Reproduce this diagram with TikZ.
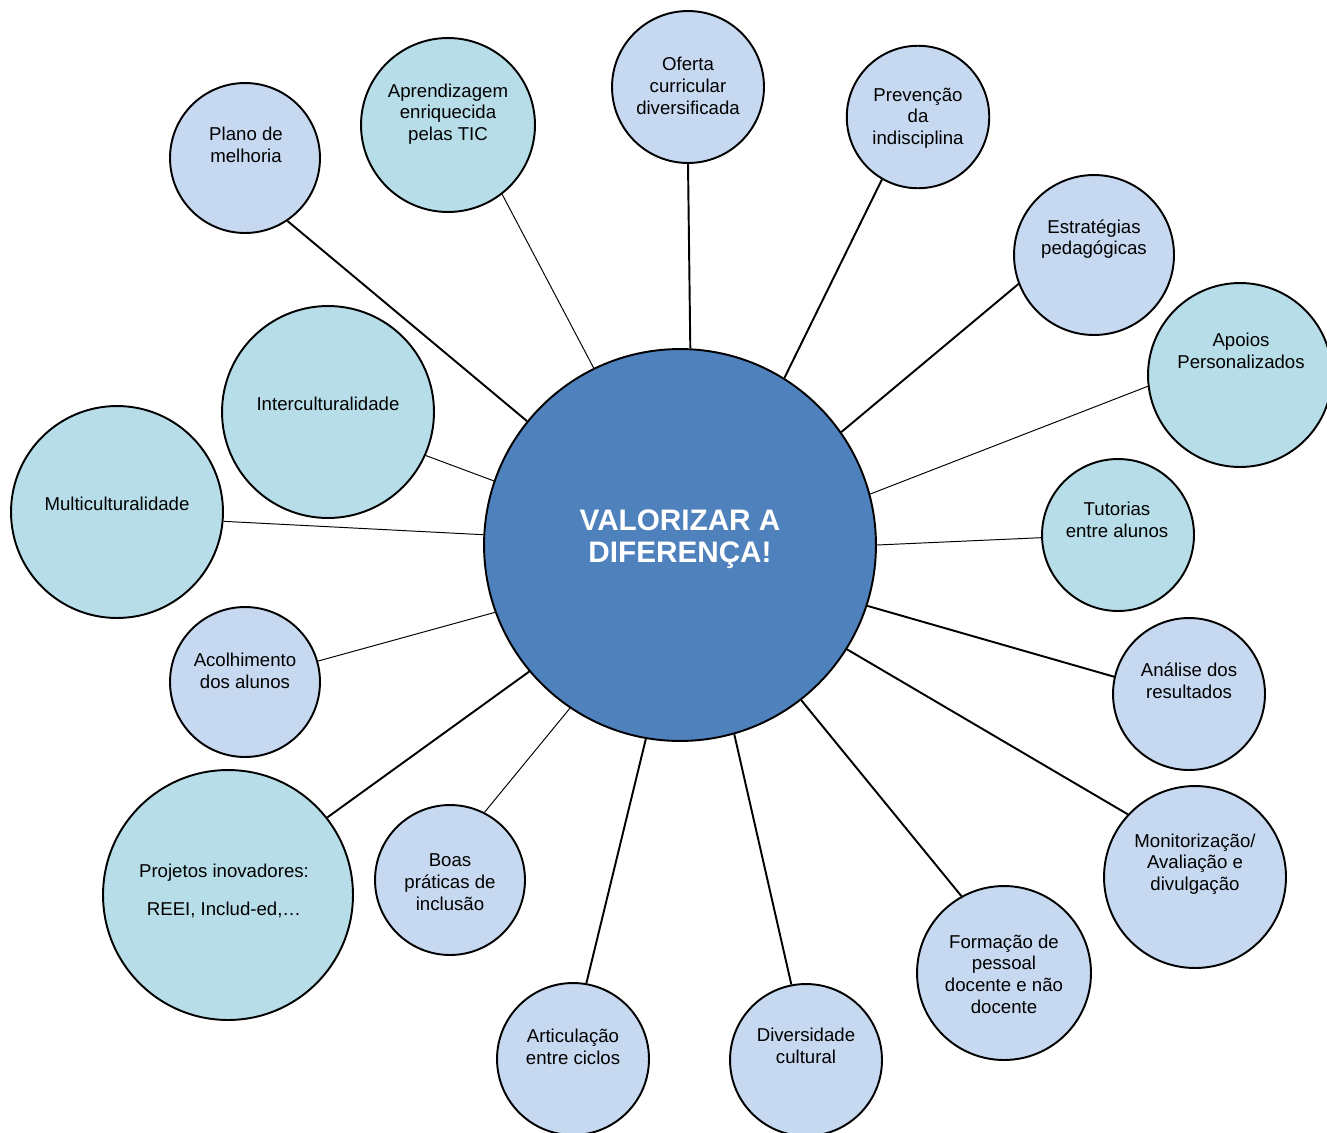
\documentclass[tikz,border=0pt]{standalone}
\usepackage{fontspec}
\setmainfont{Liberation Sans}
\definecolor{coreblue}{RGB}{79,129,189}
\definecolor{paleblue}{RGB}{198,217,241}
\definecolor{paleteal}{RGB}{183,222,232}

\begin{document}
\begin{tikzpicture}[
    x=0.02cm, y=-0.02cm,
    bubble/.style={circle, draw=black, line width=1.1pt, inner sep=0pt, fill=paleblue},
    core/.style={circle, draw=black, line width=1.1pt, fill=coreblue, inner sep=0pt,
                 minimum size=7.84cm},
    caption/.style={align=center, font=\fontsize{10.6}{12.35}\selectfont},
    link/.style={line width=1.1pt},
    thinlink/.style={line width=0.55pt}
]
    \useasboundingbox (0,0) rectangle (1327,1132);
    \clip (0,0) rectangle (1327,1132);

    % Centre
    \node[core] (core) at (680,545) {};
    \node[align=center, text=white, font=\fontsize{16.9}{18.5}\selectfont\bfseries] (core-txt) at (680,539) {VALORIZAR A\\DIFERENÇA!};

    % Top arc
    \node[bubble, minimum size=3cm] (plano) at (245,158) {};
    \node[caption] (plano-txt) at (246,145) {Plano de\\melhoria};
    \node[bubble, fill=paleteal, minimum size=3.48cm] (tic) at (448,125) {};
    \node[caption] (tic-txt) at (448,114) {Aprendizagem\\enriquecida\\pelas TIC};
    \node[bubble, minimum size=3.04cm] (oferta) at (688,87) {};
    \node[caption] (oferta-txt) at (688,86) {Oferta\\curricular\\diversificada};
    \node[bubble, minimum size=2.85cm] (prev) at (918,117) {};
    \node[caption] (prev-txt) at (918,118) {Prevenção\\da\\indisciplina};
    \node[bubble, minimum size=3.2cm] (estrat) at (1094,255) {};
    \node[caption] (estrat-txt) at (1094,239) {Estratégias\\pedagógicas};

    % Right side
    \node[bubble, fill=paleteal, minimum size=3.68cm] (apoios) at (1240,375) {};
    \node[caption] (apoios-txt) at (1241,351) {Apoios\\Personalizados};
    \node[bubble, fill=paleteal, minimum size=3.04cm] (tutorias) at (1118,535) {};
    \node[caption] (tutorias-txt) at (1117,520) {Tutorias\\entre alunos};
    \node[bubble, minimum size=3.04cm] (analise) at (1189,694) {};
    \node[caption] (analise-txt) at (1189,681) {Análise dos\\resultados};
    \node[bubble, minimum size=3.64cm] (monit) at (1195,877) {};
    \node[caption] (monit-txt) at (1195,864) {Monitorização/\\Avaliação e\\divulgação};

    % Bottom arc
    \node[bubble, minimum size=3.48cm] (formacao) at (1004,973) {};
    \node[caption] (formacao-txt) at (1004,974) {Formação de\\pessoal\\docente e não\\docente};
    \node[bubble, minimum size=3.04cm] (divers) at (806,1060) {};
    \node[caption] (divers-txt) at (806,1046) {Diversidade\\cultural};
    \node[bubble, minimum size=3.04cm] (artic) at (573,1059) {};
    \node[caption] (artic-txt) at (573,1047) {Articulação\\entre ciclos};
    \node[bubble, minimum size=3cm] (boas) at (450,880) {};
    \node[caption] (boas-txt) at (450,882) {Boas\\práticas de\\inclusão};
    \node[bubble, fill=paleteal, minimum size=5cm] (projetos) at (228,895) {};
    \node[caption] (projetos-txt) at (224,891) {Projetos inovadores:\\[0.34cm]REEI, Includ-ed,…};

    % Left side
    \node[bubble, minimum size=3cm] (acolh) at (245,682) {};
    \node[caption] (acolh-txt) at (245,671) {Acolhimento\\dos alunos};
    \node[bubble, fill=paleteal, minimum size=4.24cm] (multi) at (117,512) {};
    \node[caption] (multi-txt) at (117,504) {Multiculturalidade};
    \node[bubble, fill=paleteal, minimum size=4.24cm] (inter) at (328,412) {};
    \node[caption] (inter-txt) at (328,404) {Interculturalidade};

    % Spokes
    \draw[link] (core.141.7) -- (plano.-56.1);
    \draw[thinlink] (core.116.6) -- (tic.-52.6);
    \draw[link] (core.87.6) -- (oferta.-90);
    \draw[link] (core.58.9) -- (prev.-120.4);
    \draw[link] (core.35.1) -- (estrat.-159);
    \draw[thinlink] (core.15.7) -- (apoios.-173.9);
    \draw[thinlink] (core.-0.9) -- (tutorias.-178.5);
    \draw[link] (core.-18.2) -- (analise.167.8);
    \draw[link] (core.-32.7) -- (monit.137.2);
    \draw[link] (core.-52.1) -- (formacao.119.8);
    \draw[link] (core.-74.9) -- (divers.101.3);
    \draw[link] (core.-100.3) -- (artic.80.9);
    \draw[thinlink] (core.-124.2) -- (boas.63.1);
    \draw[link] (core.-140.7) -- (projetos.38.9);
    \draw[thinlink] (core.-160.5) -- (acolh.16.8);
    \draw[thinlink] (core.177.7) -- (multi.-5.4);
    \draw[thinlink] (core.161.5) -- (inter.-24.2);
\end{tikzpicture}
\end{document}
